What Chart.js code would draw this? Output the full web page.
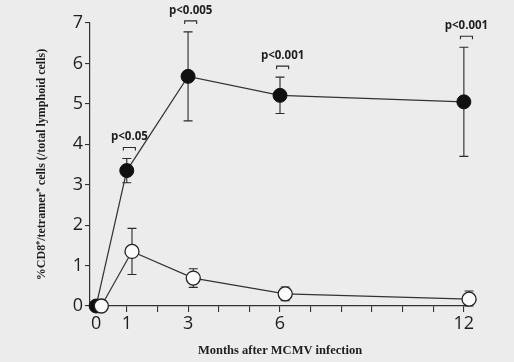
<!DOCTYPE html>
<html>
<head>
<meta charset="utf-8">
<script src="https://cdn.jsdelivr.net/npm/chart.js@4/dist/chart.umd.min.js"></script>
<style>
  html, body { margin: 0; padding: 0; background: #ececec; }
  #contenedor { width: 514px; height: 362px; }
</style>
</head>
<body>
<div id="contenedor"><canvas id="grafico"></canvas></div>
<script>
// datos
const meses = [0, 1, 3, 6, 12];
const infectadosMedia = [0, 3.35, 5.68, 5.21, 5.05];
const infectadosSd = [0, 0.3, 1.1, 0.45, 1.35];
const controlMedia = [0, 1.35, 0.69, 0.3, 0.17];
const controlSd = [0, 0.57, 0.23, 0.17, 0.2];
const etiquetasX = [0, 1, 3, 6, 12];
const pMeses = [1, 3, 6, 12];
const pTextos = ["p<0.05", "p<0.005", "p<0.001", "p<0.001"];

const tinta = "#1e1e1e";

// barras de error (se dibujan antes que los puntos)
const barrasError = {
  id: "barrasError",
  beforeDatasetsDraw(chart) {
    const ctx = chart.ctx;
    const ys = chart.scales.y;
    ctx.save();
    ctx.strokeStyle = "#2a2a2a";
    ctx.lineWidth = 1.1;
    [[0, infectadosMedia, infectadosSd], [1, controlMedia, controlSd]].forEach(([i, media, sd]) => {
      const xs = chart.scales[chart.getDatasetMeta(i).xAxisID];
      meses.forEach((m, k) => {
        if (!sd[k]) return;
        const x = xs.getPixelForValue(m);
        const arriba = ys.getPixelForValue(media[k] + sd[k]);
        const abajo = ys.getPixelForValue(Math.max(0, media[k] - sd[k]));
        ctx.beginPath();
        ctx.moveTo(x, arriba); ctx.lineTo(x, abajo);
        ctx.moveTo(x - 4.5, arriba); ctx.lineTo(x + 4.5, arriba);
        ctx.moveTo(x - 4.5, abajo); ctx.lineTo(x + 4.5, abajo);
        ctx.stroke();
      });
    });
    ctx.restore();
  }
};

// corchetes con valores p
const valoresP = {
  id: "valoresP",
  afterDraw(chart) {
    const ctx = chart.ctx;
    const ys = chart.scales.y;
    ctx.save();
    ctx.strokeStyle = "#2a2a2a";
    ctx.fillStyle = tinta;
    ctx.lineWidth = 1.1;
    ctx.font = "bold 11.5px 'Open Sans'";
    ctx.textAlign = "center";
    ctx.textBaseline = "alphabetic";
    pMeses.forEach((m, k) => {
      const i = meses.indexOf(m);
      const x = (chart.scales.x.getPixelForValue(m) + chart.scales.x2.getPixelForValue(m)) / 2;
      const y = ys.getPixelForValue(infectadosMedia[i] + infectadosSd[i]) - 11;
      ctx.beginPath();
      ctx.moveTo(x - 6, y + 3); ctx.lineTo(x - 6, y); ctx.lineTo(x + 6, y); ctx.lineTo(x + 6, y + 3);
      ctx.stroke();
      ctx.fillText(pTextos[k], x, y - 7);
    });
    ctx.restore();
  }
};

new Chart(document.getElementById("grafico"), {
  type: "line",
  data: {
    datasets: [
      {
        label: "Infectados",
        data: meses.map((m, i) => ({ x: m, y: infectadosMedia[i] })),
        xAxisID: "x",
        borderColor: "#333",
        borderWidth: 1.2,
        pointRadius: 7,
        pointBackgroundColor: "#111",
        pointBorderColor: "#111",
        pointBorderWidth: 1,
        clip: false,
        order: 1
      },
      {
        label: "Control",
        data: meses.map((m, i) => ({ x: m, y: controlMedia[i] })),
        xAxisID: "x2",
        borderColor: "#333",
        borderWidth: 1.2,
        pointRadius: 7,
        pointBackgroundColor: "#fbfbfb",
        pointBorderColor: "#222",
        pointBorderWidth: 1.3,
        clip: false,
        order: 0
      }
    ]
  },
  options: {
    animation: false,
    responsive: true,
    maintainAspectRatio: false,
    devicePixelRatio: 1,
    layout: { padding: { top: 23, right: 44, bottom: 0, left: 0 } },
    plugins: { legend: { display: false }, tooltip: { enabled: false } },
    scales: {
      x: {
        type: "linear",
        min: -0.2,
        max: 12.2,
        afterBuildTicks: s => { s.ticks = Array.from({ length: 13 }, (_, i) => ({ value: i })); },
        afterFit: s => { s.height = 56; },
        ticks: {
          autoSkip: false,
          maxRotation: 0,
          padding: 1,
          color: tinta,
          font: { family: "'Open Sans'", size: 18 },
          callback: v => etiquetasX.includes(v) ? String(v) : ""
        },
        grid: { drawOnChartArea: false, drawTicks: true, tickLength: 6, color: "#333", lineWidth: 1.1 },
        border: { display: true, color: "#333", width: 1.2 },
        title: {
          display: true,
          text: "Months after MCMV infection",
          color: tinta,
          font: { family: "'Liberation Serif'", size: 12.5, weight: "bold" },
          padding: { top: 0, bottom: 3.5 }
        }
      },
      x2: {
        type: "linear",
        display: false,
        min: -0.37,
        max: 12.03
      },
      y: {
        min: 0,
        max: 7,
        afterFit: s => { s.width = 90; },
        ticks: {
          stepSize: 1,
          padding: 2,
          color: tinta,
          font: { family: "'Open Sans'", size: 18 }
        },
        grid: { drawOnChartArea: false, drawTicks: true, tickLength: 5, color: "#333", lineWidth: 1.1 },
        border: { display: true, color: "#333", width: 1.2 },
        title: {
          display: true,
          text: "%CD8\u207A/tetramer\u207A cells (/total lymphoid cells)",
          color: tinta,
          font: { family: "'Liberation Serif'", size: 12, weight: "bold" },
          padding: { top: 35, bottom: 0 }
        }
      }
    }
  },
  plugins: [barrasError, valoresP]
});
</script>
</body>
</html>
